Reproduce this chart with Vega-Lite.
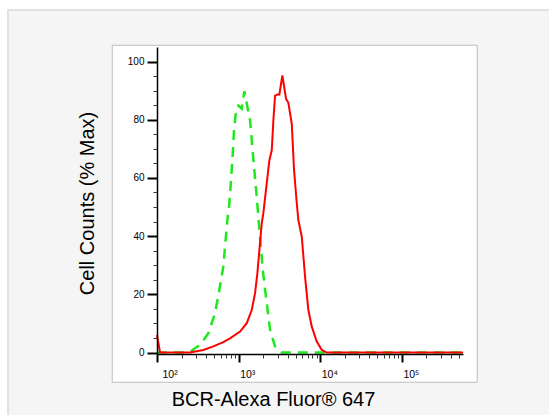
{
  "$schema": "https://vega.github.io/schema/vega-lite/v6.json",
  "width": 306,
  "height": 307,
  "autosize": "none",
  "padding": {"left": 157, "top": 47, "right": 86, "bottom": 61},
  "background": "white",
  "config": {
    "view": {"stroke": "#9a9a9a", "strokeWidth": 1.5, "fill": "white"},
    "font": "Liberation Sans"
  },
  "datasets": {
    "curves": [
      {"series": "Isotype", "intensity": 100, "pct": 0},
      {"series": "Isotype", "intensity": 210, "pct": 0},
      {"series": "Isotype", "intensity": 254, "pct": 0.3},
      {"series": "Isotype", "intensity": 336, "pct": 2.6},
      {"series": "Isotype", "intensity": 425, "pct": 6.6},
      {"series": "Isotype", "intensity": 514, "pct": 13.5},
      {"series": "Isotype", "intensity": 580, "pct": 21.5},
      {"series": "Isotype", "intensity": 649, "pct": 29.5},
      {"series": "Isotype", "intensity": 727, "pct": 45.6},
      {"series": "Isotype", "intensity": 769, "pct": 51.2},
      {"series": "Isotype", "intensity": 807, "pct": 59.2},
      {"series": "Isotype", "intensity": 847, "pct": 68.4},
      {"series": "Isotype", "intensity": 878, "pct": 76.3},
      {"series": "Isotype", "intensity": 929, "pct": 83.2},
      {"series": "Isotype", "intensity": 992, "pct": 84.9},
      {"series": "Isotype", "intensity": 1091, "pct": 83.8},
      {"series": "Isotype", "intensity": 1175, "pct": 89.8},
      {"series": "Isotype", "intensity": 1379, "pct": 79.8},
      {"series": "Isotype", "intensity": 1472, "pct": 70.6},
      {"series": "Isotype", "intensity": 1557, "pct": 62.6},
      {"series": "Isotype", "intensity": 1667, "pct": 53.5},
      {"series": "Isotype", "intensity": 1743, "pct": 46.6},
      {"series": "Isotype", "intensity": 1829, "pct": 39.8},
      {"series": "Isotype", "intensity": 1974, "pct": 28.4},
      {"series": "Isotype", "intensity": 2210, "pct": 16.9},
      {"series": "Isotype", "intensity": 2425, "pct": 7.8},
      {"series": "Isotype", "intensity": 2793, "pct": 2.1},
      {"series": "Isotype", "intensity": 3375, "pct": 0},
      {"series": "Isotype", "intensity": 560000, "pct": 0},
      {"series": "BCR", "intensity": 100, "pct": 6},
      {"series": "BCR", "intensity": 109, "pct": 0},
      {"series": "BCR", "intensity": 254, "pct": 0},
      {"series": "BCR", "intensity": 369, "pct": 0.9},
      {"series": "BCR", "intensity": 490, "pct": 2.1},
      {"series": "BCR", "intensity": 649, "pct": 3.6},
      {"series": "BCR", "intensity": 784, "pct": 4.9},
      {"series": "BCR", "intensity": 1040, "pct": 7.2},
      {"series": "BCR", "intensity": 1257, "pct": 10.1},
      {"series": "BCR", "intensity": 1447, "pct": 14.6},
      {"series": "BCR", "intensity": 1589, "pct": 20.4},
      {"series": "BCR", "intensity": 1695, "pct": 27.2},
      {"series": "BCR", "intensity": 1794, "pct": 35.2},
      {"series": "BCR", "intensity": 1919, "pct": 44.4},
      {"series": "BCR", "intensity": 2008, "pct": 47.9},
      {"series": "BCR", "intensity": 2210, "pct": 58.2},
      {"series": "BCR", "intensity": 2378, "pct": 66},
      {"series": "BCR", "intensity": 2545, "pct": 69.5},
      {"series": "BCR", "intensity": 2663, "pct": 79.8},
      {"series": "BCR", "intensity": 2793, "pct": 88.3},
      {"series": "BCR", "intensity": 2998, "pct": 88.7},
      {"series": "BCR", "intensity": 3154, "pct": 88.7},
      {"series": "BCR", "intensity": 3432, "pct": 95.2},
      {"series": "BCR", "intensity": 3810, "pct": 87.2},
      {"series": "BCR", "intensity": 4066, "pct": 85.8},
      {"series": "BCR", "intensity": 4475, "pct": 78.6},
      {"series": "BCR", "intensity": 4775, "pct": 62.6},
      {"series": "BCR", "intensity": 5152, "pct": 51.3},
      {"series": "BCR", "intensity": 5390, "pct": 45.5},
      {"series": "BCR", "intensity": 5933, "pct": 39.8},
      {"series": "BCR", "intensity": 6512, "pct": 26},
      {"series": "BCR", "intensity": 7147, "pct": 14.6},
      {"series": "BCR", "intensity": 7866, "pct": 8.9},
      {"series": "BCR", "intensity": 9061, "pct": 3.8},
      {"series": "BCR", "intensity": 10433, "pct": 0.9},
      {"series": "BCR", "intensity": 12016, "pct": 0},
      {"series": "BCR", "intensity": 560000, "pct": 0}
    ]
  },
  "data": {"name": "curves"},
  "resolve": {"axis": {"x": "independent", "y": "independent"}},
  "layer": [
    {
      "data": {"values": [{}]},
      "mark": {"type": "rect", "fill": "#f5f5f5", "stroke": "#d9d9d9", "strokeWidth": 1.5},
      "encoding": {
        "x": {"datum": 1.496, "type": "quantitative", "scale": {"type": "log", "domain": [100, 560000], "nice": false}, "axis": null},
        "x2": {"datum": 27000000},
        "y": {"datum": 117.7, "type": "quantitative", "scale": {"domain": [-0.5, 105], "nice": false, "zero": false}, "axis": null},
        "y2": {"datum": -33.5}
      }
    },
    {
      "data": {"values": [{}]},
      "mark": {"type": "rect", "fill": "white", "stroke": "#bdbdbd", "strokeWidth": 1},
      "encoding": {
        "x": {"datum": 28.3, "type": "quantitative", "scale": {"type": "log", "domain": [100, 560000], "nice": false}, "axis": null},
        "x2": {"datum": 837000},
        "y": {"datum": 105.6, "type": "quantitative", "scale": {"domain": [-0.5, 105], "nice": false, "zero": false}, "axis": null},
        "y2": {"datum": -10.2}
      }
    },
    {
      "transform": [{"filter": "datum.series === 'Isotype'"}],
      "mark": {"type": "line", "color": "#1ee81e", "strokeWidth": 2.5, "strokeDash": [10, 7]},
      "encoding": {
        "x": {
          "field": "intensity", "type": "quantitative",
          "scale": {"type": "log", "domain": [100, 560000], "nice": false},
          "axis": {
            "orient": "bottom", "values": [100, 1000, 10000, 100000],
            "grid": false, "zindex": 1,
            "domainColor": "black", "domainWidth": 1.5,
            "tickColor": "black", "tickSize": 8, "tickWidth": 2,
            "labelFont": "Liberation Sans", "labelFontSize": 10.5, "labelColor": "black",
            "labelAlign": "left", "labelFlush": false,
            "labelOffset": {"condition": {"test": "datum.value < 500", "value": 5}, "value": 1},
            "labelPadding": 7,
            "labelExpr": "datum.value < 500 ? '10²' : datum.value < 5000 ? '10³' : datum.value < 50000 ? '10⁴' : '10⁵'",
            "title": "BCR-Alexa Fluor® 647",
            "titleFont": "Liberation Sans", "titleFontSize": 20, "titleFontWeight": "normal", "titleColor": "black",
            "titleX": 116, "titleY": 51, "titleAlign": "center", "titleBaseline": "alphabetic"
          }
        },
        "y": {
          "field": "pct", "type": "quantitative",
          "scale": {"domain": [-0.5, 105], "nice": false, "zero": false},
          "axis": {
            "orient": "left", "values": [0, 20, 40, 60, 80, 100], "format": "d",
            "grid": false, "zindex": 1,
            "domainColor": "black", "domainWidth": 1.5,
            "tickColor": "black", "tickSize": 10, "tickWidth": 2,
            "labelFont": "Liberation Sans", "labelFontSize": 10, "labelColor": "black",
            "labelPadding": 3, "labelFlush": false,
            "title": "Cell Counts (% Max)",
            "titleFont": "Liberation Sans", "titleFontSize": 20, "titleFontWeight": "normal", "titleColor": "black",
            "titleX": -63.5, "titleY": 156, "titleAngle": 270, "titleAlign": "center", "titleBaseline": "alphabetic"
          }
        }
      }
    },
    {
      "transform": [{"filter": "datum.series === 'BCR'"}],
      "mark": {"type": "line", "color": "#ff0000", "strokeWidth": 2},
      "encoding": {
        "x": {
          "field": "intensity", "type": "quantitative",
          "scale": {"type": "log", "domain": [100, 560000], "nice": false},
          "axis": {
            "orient": "bottom",
            "values": [200, 300, 400, 500, 600, 700, 800, 900, 2000, 3000, 4000, 5000, 6000, 7000, 8000, 9000, 20000, 30000, 40000, 50000, 60000, 70000, 80000, 90000, 200000, 300000, 400000, 500000],
            "grid": false, "zindex": 1, "domain": false, "labels": false, "title": null,
            "tickColor": "#333333", "tickSize": 4, "tickWidth": 1
          }
        },
        "y": {
          "field": "pct", "type": "quantitative",
          "scale": {"domain": [-0.5, 105], "nice": false, "zero": false},
          "axis": {
            "orient": "left",
            "values": [5, 10, 15, 25, 30, 35, 45, 50, 55, 65, 70, 75, 85, 90, 95],
            "grid": false, "zindex": 1, "domain": false, "labels": false, "title": null,
            "tickColor": "#333333", "tickSize": 4, "tickWidth": 1
          }
        }
      }
    }
  ]
}
